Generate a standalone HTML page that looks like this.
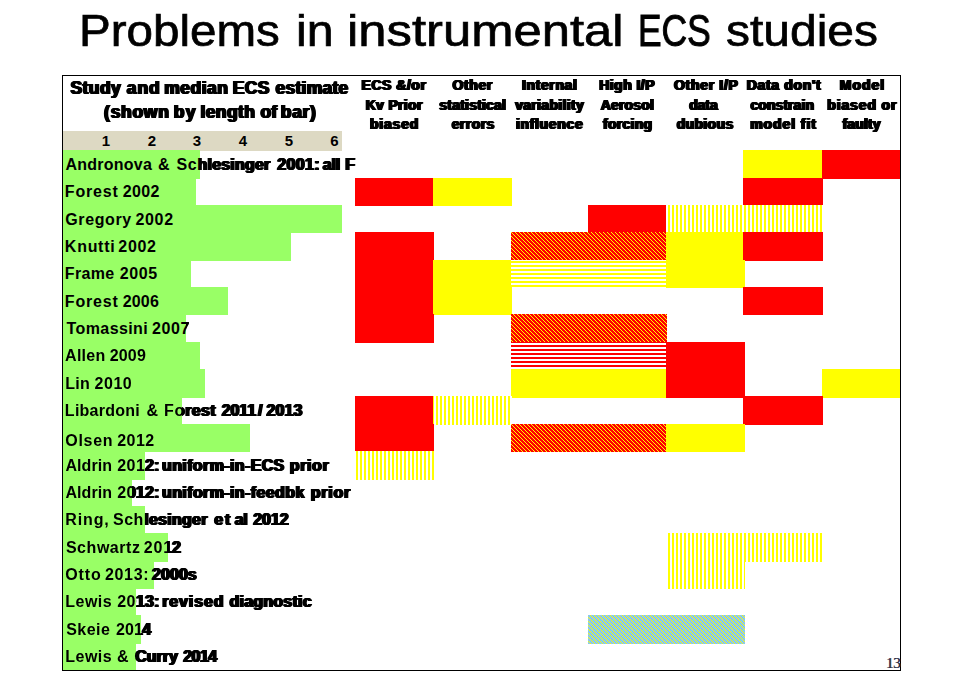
<!DOCTYPE html>
<html><head><meta charset="utf-8"><title>Problems in instrumental ECS studies</title>
<style>
html,body{margin:0;padding:0;background:#fff;}
body{width:957px;height:684px;position:relative;overflow:hidden;font-family:"Liberation Sans",sans-serif;color:#000;}
.t{position:absolute;white-space:pre;line-height:1;}
.tw{transform-origin:0 0;will-change:transform;}
.b{font-weight:bold;}
.fat{font-weight:bold;text-shadow:0.5px 0 0 #000,1px 0 0 #000,1.5px 0 0 #000,2px 0 0 #000;}
.clip{position:absolute;overflow:hidden;}
.g{will-change:transform;}
svg{position:absolute;left:0;top:0;}
</style></head><body>
<svg width="957" height="684" viewBox="0 0 957 684" shape-rendering="crispEdges">
<defs>
<pattern id="yv" patternUnits="userSpaceOnUse" width="4" height="4"><rect width="4" height="4" fill="#fff"/><rect x="0" y="0" width="2" height="4" fill="#ffff00"/></pattern>
<pattern id="yh" patternUnits="userSpaceOnUse" width="4" height="4"><rect width="4" height="4" fill="#fff"/><rect x="0" y="1" width="4" height="2" fill="#ffff00"/></pattern>
<pattern id="rh" patternUnits="userSpaceOnUse" width="4" height="4"><rect width="4" height="4" fill="#fff"/><rect x="0" y="1" width="4" height="2" fill="#ff0000"/></pattern>
<pattern id="rd" patternUnits="userSpaceOnUse" width="4" height="4"><rect width="4" height="4" fill="#ff0000"/><rect x="3" y="0" width="1" height="1" fill="#ffff00"/><rect x="0" y="1" width="1" height="1" fill="#ffff00"/><rect x="1" y="2" width="1" height="1" fill="#ffff00"/><rect x="2" y="3" width="1" height="1" fill="#ffff00"/></pattern>
<pattern id="bd" patternUnits="userSpaceOnUse" width="4" height="4"><rect width="4" height="4" fill="#80c4ff"/><rect x="1" y="0" width="1" height="1" fill="#92cddc"/><rect x="3" y="0" width="1" height="1" fill="#ffff00"/><rect x="0" y="1" width="1" height="1" fill="#ffff00"/><rect x="2" y="1" width="1" height="1" fill="#92cddc"/><rect x="1" y="2" width="1" height="1" fill="#ffff00"/><rect x="3" y="2" width="1" height="1" fill="#92cddc"/><rect x="0" y="3" width="1" height="1" fill="#92cddc"/><rect x="2" y="3" width="1" height="1" fill="#ffff00"/></pattern>
</defs>
<rect x="63" y="131" width="279" height="20" fill="#ddd9c3"/>
<rect x="63" y="150" width="137" height="29" fill="#99ff66"/>
<rect x="63" y="178" width="133" height="28" fill="#99ff66"/>
<rect x="63" y="205" width="279" height="28" fill="#99ff66"/>
<rect x="63" y="232" width="228" height="29" fill="#99ff66"/>
<rect x="63" y="260" width="128" height="28" fill="#99ff66"/>
<rect x="63" y="287" width="165" height="28" fill="#99ff66"/>
<rect x="63" y="314" width="123" height="29" fill="#99ff66"/>
<rect x="63" y="342" width="137" height="28" fill="#99ff66"/>
<rect x="63" y="369" width="142" height="29" fill="#99ff66"/>
<rect x="63" y="396" width="119" height="29" fill="#99ff66"/>
<rect x="63" y="424" width="187" height="28" fill="#99ff66"/>
<rect x="63" y="451" width="82" height="29" fill="#99ff66"/>
<rect x="63" y="479" width="69" height="28" fill="#99ff66"/>
<rect x="63" y="506" width="82" height="28" fill="#99ff66"/>
<rect x="63" y="533" width="105" height="29" fill="#99ff66"/>
<rect x="63" y="561" width="91" height="28" fill="#99ff66"/>
<rect x="63" y="588" width="73" height="28" fill="#99ff66"/>
<rect x="63" y="615" width="78" height="29" fill="#99ff66"/>
<rect x="63" y="643" width="73" height="28" fill="#99ff66"/>
<rect x="743" y="150" width="80" height="29" fill="#ffff00"/>
<rect x="822" y="150" width="79" height="29" fill="#ff0000"/>
<rect x="355" y="178" width="79" height="28" fill="#ff0000"/>
<rect x="433" y="178" width="79" height="28" fill="#ffff00"/>
<rect x="743" y="178" width="80" height="28" fill="#ff0000"/>
<rect x="588" y="205" width="79" height="28" fill="#ff0000"/>
<rect x="666" y="205" width="157" height="28" fill="url(#yv)"/>
<rect x="355" y="232" width="79" height="29" fill="#ff0000"/>
<rect x="511" y="232" width="156" height="29" fill="url(#rd)"/>
<rect x="666" y="232" width="79" height="29" fill="#ffff00"/>
<rect x="743" y="232" width="80" height="29" fill="#ff0000"/>
<rect x="355" y="260" width="79" height="28" fill="#ff0000"/>
<rect x="433" y="260" width="79" height="28" fill="#ffff00"/>
<rect x="511" y="260" width="156" height="28" fill="url(#yh)"/>
<rect x="666" y="260" width="79" height="28" fill="#ffff00"/>
<rect x="355" y="287" width="79" height="28" fill="#ff0000"/>
<rect x="433" y="287" width="79" height="28" fill="#ffff00"/>
<rect x="743" y="287" width="80" height="28" fill="#ff0000"/>
<rect x="355" y="314" width="79" height="29" fill="#ff0000"/>
<rect x="511" y="314" width="156" height="29" fill="url(#rd)"/>
<rect x="511" y="342" width="156" height="28" fill="url(#rh)"/>
<rect x="666" y="342" width="79" height="28" fill="#ff0000"/>
<rect x="511" y="369" width="156" height="29" fill="#ffff00"/>
<rect x="666" y="369" width="79" height="29" fill="#ff0000"/>
<rect x="822" y="369" width="79" height="29" fill="#ffff00"/>
<rect x="355" y="396" width="79" height="29" fill="#ff0000"/>
<rect x="433" y="396" width="79" height="29" fill="url(#yv)"/>
<rect x="743" y="396" width="80" height="29" fill="#ff0000"/>
<rect x="355" y="424" width="79" height="28" fill="#ff0000"/>
<rect x="511" y="424" width="156" height="28" fill="url(#rd)"/>
<rect x="666" y="424" width="79" height="28" fill="#ffff00"/>
<rect x="355" y="451" width="79" height="29" fill="url(#yv)"/>
<rect x="666" y="533" width="157" height="29" fill="url(#yv)"/>
<rect x="666" y="561" width="79" height="28" fill="url(#yv)"/>
<rect x="588" y="615" width="157" height="29" fill="url(#bd)"/>
<rect x="62.5" y="75.5" width="838" height="595" fill="none" stroke="#000" stroke-width="1"/>
</svg>
<div class="t tw" style="left:79.14px;top:8.00px;font-size:45px;transform:scaleX(1.0569);-webkit-text-stroke:0.7px #000">Problems</div>
<div class="t tw" style="left:295.86px;top:8.00px;font-size:45px;transform:scaleX(1.0722);-webkit-text-stroke:0.7px #000">in</div>
<div class="t tw" style="left:347.23px;top:8.00px;font-size:45px;transform:scaleX(1.1281);-webkit-text-stroke:0.7px #000">instrumental</div>
<div class="t tw" style="left:638.13px;top:8.00px;font-size:45px;transform:scaleX(0.7853);-webkit-text-stroke:1px #000">ECS</div>
<div class="t tw" style="left:725.60px;top:8.00px;font-size:45px;transform:scaleX(1.0662);-webkit-text-stroke:0.7px #000">studies</div>
<div class="t b" style="left:96.0px;top:133px;font-size:15px;width:20px;text-align:center">1</div>
<div class="t b" style="left:142.0px;top:133px;font-size:15px;width:20px;text-align:center">2</div>
<div class="t b" style="left:187.0px;top:133px;font-size:15px;width:20px;text-align:center">3</div>
<div class="t b" style="left:233.0px;top:133px;font-size:15px;width:20px;text-align:center">4</div>
<div class="t b" style="left:279.0px;top:133px;font-size:15px;width:20px;text-align:center">5</div>
<div class="t b" style="left:324.5px;top:133px;font-size:15px;width:20px;text-align:center">6</div>
<div class="g" style="position:absolute;left:0;top:0;width:957px;height:131px">
<div class="t fat" style="left:69.47px;top:80px;font-size:17.5px;letter-spacing:0.412px">Study</div>
<div class="t fat" style="left:125.77px;top:80px;font-size:17.5px;letter-spacing:0.950px">and</div>
<div class="t fat" style="left:163.16px;top:80px;font-size:17.5px;letter-spacing:0.527px">median</div>
<div class="t fat" style="left:231.76px;top:80px;font-size:17.5px;letter-spacing:0.388px">ECS</div>
<div class="t fat" style="left:274.60px;top:80px;font-size:17.5px;letter-spacing:0.223px">estimate</div>
<div class="t fat" style="left:103.12px;top:104px;font-size:17.5px;letter-spacing:0.695px">(shown</div>
<div class="t fat" style="left:172.66px;top:104px;font-size:17.5px;letter-spacing:1.437px">by</div>
<div class="t fat" style="left:199.53px;top:104px;font-size:17.5px;letter-spacing:0.365px">length</div>
<div class="t fat" style="left:259.40px;top:104px;font-size:17.5px;letter-spacing:0.262px">of</div>
<div class="t fat" style="left:279.76px;top:104px;font-size:17.5px;letter-spacing:0.696px">bar)</div>
<div class="t fat" style="left:360.59px;top:78px;font-size:14px;letter-spacing:0.519px">ECS &amp;/or</div>
<div class="t fat" style="left:364.69px;top:98px;font-size:14px;letter-spacing:0.323px">Kv Prior</div>
<div class="t fat" style="left:368.99px;top:117px;font-size:14px;letter-spacing:0.802px">biased</div>
<div class="t fat" style="left:451.54px;top:78px;font-size:14px;letter-spacing:0.590px">Other</div>
<div class="t fat" style="left:438.31px;top:98px;font-size:14px;letter-spacing:0.213px">statistical</div>
<div class="t fat" style="left:450.64px;top:117px;font-size:14px;letter-spacing:0.452px">errors</div>
<div class="t fat" style="left:520.99px;top:78px;font-size:14px;letter-spacing:0.621px">Internal</div>
<div class="t fat" style="left:514.13px;top:98px;font-size:14px;letter-spacing:0.323px">variability</div>
<div class="t fat" style="left:515.02px;top:117px;font-size:14px;letter-spacing:0.651px">influence</div>
<div class="t fat" style="left:598.19px;top:78px;font-size:14px;letter-spacing:0.464px">High I/P</div>
<div class="t fat" style="left:599.65px;top:98px;font-size:14px;letter-spacing:0.175px">Aerosol</div>
<div class="t fat" style="left:602.09px;top:117px;font-size:14px;letter-spacing:0.255px">forcing</div>
<div class="t fat" style="left:673.04px;top:78px;font-size:14px;letter-spacing:0.684px">Other I/P</div>
<div class="t fat" style="left:688.14px;top:98px;font-size:14px;letter-spacing:-0.083px">data</div>
<div class="t fat" style="left:675.64px;top:117px;font-size:14px;letter-spacing:0.360px">dubious</div>
<div class="t fat" style="left:745.79px;top:78px;font-size:14px;letter-spacing:0.658px">Data don&#x27;t</div>
<div class="t fat" style="left:749.54px;top:98px;font-size:14px;letter-spacing:0.050px">constrain</div>
<div class="t fat" style="left:749.19px;top:117px;font-size:14px;letter-spacing:0.918px">model fit</div>
<div class="t fat" style="left:838.79px;top:78px;font-size:14px;letter-spacing:0.957px">Model</div>
<div class="t fat" style="left:826.29px;top:98px;font-size:14px;letter-spacing:0.861px">biased or</div>
<div class="t fat" style="left:841.39px;top:117px;font-size:14px;letter-spacing:0.174px">faulty</div>
</div>
<div class="clip" style="left:63px;top:149px;width:137px;height:31px"><div class="t b" style="left:2.50px;top:8px;font-size:16px;letter-spacing:0.242px">Andronova</div><div class="t b" style="left:94.98px;top:8px;font-size:16px;letter-spacing:0.000px">&amp;</div><div class="t b" style="left:113.62px;top:8px;font-size:16px;letter-spacing:0.390px">Schlesinger</div></div>
<div class="clip g" style="left:200px;top:149px;width:160px;height:31px"><div class="t fat" style="left:-23.38px;top:8px;font-size:16px;letter-spacing:0.190px">Schlesinger</div><div class="t fat" style="left:76.34px;top:8px;font-size:16px;letter-spacing:0.350px">2001:</div><div class="t fat" style="left:121.72px;top:8px;font-size:16px;letter-spacing:-0.130px">all</div><div class="t fat" style="left:144.26px;top:8px;font-size:16px;letter-spacing:0.000px">F</div></div>
<div class="clip" style="left:63px;top:177px;width:133px;height:30px"><div class="t b" style="left:1.86px;top:7px;font-size:16px;letter-spacing:0.824px">Forest</div><div class="t b" style="left:59.64px;top:7px;font-size:16px;letter-spacing:0.367px">2002</div></div>
<div class="clip" style="left:63px;top:204px;width:279px;height:30px"><div class="t b" style="left:2.26px;top:8px;font-size:16px;letter-spacing:0.613px">Gregory</div><div class="t b" style="left:72.54px;top:8px;font-size:16px;letter-spacing:0.633px">2002</div></div>
<div class="clip" style="left:63px;top:231px;width:228px;height:31px"><div class="t b" style="left:1.86px;top:8px;font-size:16px;letter-spacing:0.720px">Knutti</div><div class="t b" style="left:55.34px;top:8px;font-size:16px;letter-spacing:0.667px">2002</div></div>
<div class="clip" style="left:63px;top:259px;width:128px;height:30px"><div class="t b" style="left:1.86px;top:7px;font-size:16px;letter-spacing:0.300px">Frame</div><div class="t b" style="left:56.64px;top:7px;font-size:16px;letter-spacing:0.647px">2005</div></div>
<div class="clip" style="left:63px;top:286px;width:165px;height:30px"><div class="t b" style="left:1.86px;top:8px;font-size:16px;letter-spacing:0.824px">Forest</div><div class="t b" style="left:59.64px;top:8px;font-size:16px;letter-spacing:0.207px">2006</div></div>
<div class="clip" style="left:63px;top:313px;width:123px;height:31px"><div class="t b" style="left:3.54px;top:8px;font-size:16px;letter-spacing:0.407px">Tomassini</div><div class="t b" style="left:88.94px;top:8px;font-size:16px;letter-spacing:0.660px">2007</div></div>
<div class="clip g" style="left:186px;top:313px;width:174px;height:31px"><div class="t fat" style="left:-34.06px;top:8px;font-size:16px;letter-spacing:-0.007px">2007</div></div>
<div class="clip" style="left:63px;top:341px;width:137px;height:30px"><div class="t b" style="left:2.10px;top:7px;font-size:16px;letter-spacing:0.260px">Allen</div><div class="t b" style="left:46.64px;top:7px;font-size:16px;letter-spacing:0.207px">2009</div></div>
<div class="clip" style="left:63px;top:368px;width:142px;height:31px"><div class="t b" style="left:2.36px;top:8px;font-size:16px;letter-spacing:0.200px">Lin</div><div class="t b" style="left:31.54px;top:8px;font-size:16px;letter-spacing:0.533px">2010</div></div>
<div class="clip" style="left:63px;top:396px;width:119px;height:30px"><div class="t b" style="left:1.86px;top:7px;font-size:16px;letter-spacing:0.247px">Libardoni</div><div class="t b" style="left:83.58px;top:7px;font-size:16px;letter-spacing:0.000px">&amp;</div><div class="t b" style="left:100.96px;top:7px;font-size:16px;letter-spacing:0.764px">Forest</div></div>
<div class="clip g" style="left:182px;top:396px;width:178px;height:30px"><div class="t fat" style="left:-18.04px;top:7px;font-size:16px;letter-spacing:0.364px">Forest</div><div class="t fat" style="left:38.64px;top:7px;font-size:16px;letter-spacing:-0.060px">2011</div><div class="t fat" style="left:75.04px;top:7px;font-size:16px;letter-spacing:0.000px">/</div><div class="t fat" style="left:83.54px;top:7px;font-size:16px;letter-spacing:0.107px">2013</div></div>
<div class="clip" style="left:63px;top:423px;width:187px;height:30px"><div class="t b" style="left:2.26px;top:10px;font-size:16px;letter-spacing:0.700px">Olsen</div><div class="t b" style="left:54.14px;top:10px;font-size:16px;letter-spacing:0.500px">2012</div></div>
<div class="clip" style="left:63px;top:450px;width:82px;height:31px"><div class="t b" style="left:2.50px;top:8px;font-size:16px;letter-spacing:0.060px">Aldrin</div><div class="t b" style="left:54.14px;top:8px;font-size:16px;letter-spacing:0.550px">2012:</div></div>
<div class="clip g" style="left:145px;top:450px;width:215px;height:31px"><div class="t fat" style="left:-27.86px;top:8px;font-size:16px;letter-spacing:0.050px">2012:</div><div class="t fat" style="left:16.04px;top:8px;font-size:16px;letter-spacing:0.380px">uniform-in-ECS</div><div class="t fat" style="left:143.76px;top:8px;font-size:16px;letter-spacing:0.625px">prior</div></div>
<div class="clip" style="left:63px;top:478px;width:69px;height:30px"><div class="t b" style="left:2.50px;top:7px;font-size:16px;letter-spacing:0.060px">Aldrin</div><div class="t b" style="left:54.14px;top:7px;font-size:16px;letter-spacing:0.550px">2012:</div></div>
<div class="clip g" style="left:132px;top:478px;width:228px;height:30px"><div class="t fat" style="left:-14.86px;top:7px;font-size:16px;letter-spacing:0.050px">2012:</div><div class="t fat" style="left:29.04px;top:7px;font-size:16px;letter-spacing:0.391px">uniform-in-feedbk</div><div class="t fat" style="left:177.86px;top:7px;font-size:16px;letter-spacing:0.725px">prior</div></div>
<div class="clip" style="left:63px;top:505px;width:82px;height:30px"><div class="t b" style="left:2.36px;top:7px;font-size:16px;letter-spacing:0.865px">Ring,</div><div class="t b" style="left:50.02px;top:7px;font-size:16px;letter-spacing:0.470px">Schlesinger</div></div>
<div class="clip g" style="left:145px;top:505px;width:215px;height:30px"><div class="t fat" style="left:-31.98px;top:7px;font-size:16px;letter-spacing:0.270px">Schlesinger</div><div class="t fat" style="left:68.36px;top:7px;font-size:16px;letter-spacing:1.840px">et</div><div class="t fat" style="left:88.82px;top:7px;font-size:16px;letter-spacing:-0.460px">al</div><div class="t fat" style="left:107.24px;top:7px;font-size:16px;letter-spacing:-0.067px">2012</div></div>
<div class="clip" style="left:63px;top:532px;width:105px;height:31px"><div class="t b" style="left:2.92px;top:8px;font-size:16px;letter-spacing:0.543px">Schwartz</div><div class="t b" style="left:80.84px;top:8px;font-size:16px;letter-spacing:0.800px">2012</div></div>
<div class="clip g" style="left:168px;top:532px;width:192px;height:31px"><div class="t fat" style="left:-24.16px;top:8px;font-size:16px;letter-spacing:0.133px">2012</div></div>
<div class="clip" style="left:63px;top:560px;width:91px;height:30px"><div class="t b" style="left:2.26px;top:7px;font-size:16px;letter-spacing:0.867px">Otto</div><div class="t b" style="left:41.94px;top:7px;font-size:16px;letter-spacing:0.675px">2013:</div><div class="t b" style="left:88.04px;top:7px;font-size:16px;letter-spacing:0.555px">2000s</div></div>
<div class="clip g" style="left:154px;top:560px;width:206px;height:30px"><div class="t fat" style="left:-2.96px;top:7px;font-size:16px;letter-spacing:0.055px">2000s</div></div>
<div class="clip" style="left:63px;top:587px;width:73px;height:30px"><div class="t b" style="left:2.36px;top:7px;font-size:16px;letter-spacing:0.450px">Lewis</div><div class="t b" style="left:54.14px;top:7px;font-size:16px;letter-spacing:0.550px">2013:</div></div>
<div class="clip g" style="left:136px;top:587px;width:224px;height:30px"><div class="t fat" style="left:-18.86px;top:7px;font-size:16px;letter-spacing:0.050px">2013:</div><div class="t fat" style="left:25.26px;top:7px;font-size:16px;letter-spacing:0.863px">revised</div><div class="t fat" style="left:92.46px;top:7px;font-size:16px;letter-spacing:0.247px">diagnostic</div></div>
<div class="clip" style="left:63px;top:614px;width:78px;height:31px"><div class="t b" style="left:3.22px;top:8px;font-size:16px;letter-spacing:0.450px">Skeie</div><div class="t b" style="left:52.94px;top:8px;font-size:16px;letter-spacing:0.180px">2014</div></div>
<div class="clip g" style="left:141px;top:614px;width:219px;height:31px"><div class="t fat" style="left:-25.06px;top:8px;font-size:16px;letter-spacing:-0.487px">2014</div></div>
<div class="clip" style="left:63px;top:642px;width:73px;height:30px"><div class="t b" style="left:2.36px;top:7px;font-size:16px;letter-spacing:0.450px">Lewis</div><div class="t b" style="left:53.98px;top:7px;font-size:16px;letter-spacing:0.000px">&amp;</div><div class="t b" style="left:71.26px;top:7px;font-size:16px;letter-spacing:0.470px">Curry</div></div>
<div class="clip g" style="left:136px;top:642px;width:224px;height:30px"><div class="t fat" style="left:-1.74px;top:7px;font-size:16px;letter-spacing:-0.030px">Curry</div><div class="t fat" style="left:46.34px;top:7px;font-size:16px;letter-spacing:-0.620px">2014</div></div>
<div class="t" style="left:885.8px;top:654.8px;font-family:'Liberation Serif',serif;font-size:15.5px;letter-spacing:-0.6px;color:#20284a;text-shadow:0.6px 0 0 rgba(90,50,20,0.75)">13</div>
</body></html>
